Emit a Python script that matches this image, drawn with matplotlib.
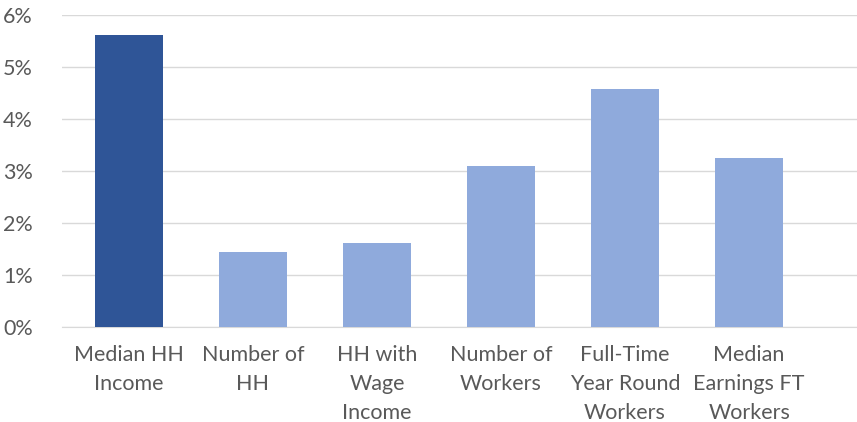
import matplotlib
matplotlib.use("Agg")
import matplotlib.pyplot as plt
from matplotlib.ticker import FuncFormatter

categories = [
    "Median HH\nIncome",
    "Number of\nHH",
    "HH with\nWage\nIncome",
    "Number of\nWorkers",
    "Full-Time\nYear Round\nWorkers",
    "Median\nEarnings FT\nWorkers",
]
values = [5.62, 1.44, 1.62, 3.10, 4.58, 3.26]
bar_colors = ["#2F5597", "#8FAADC", "#8FAADC", "#8FAADC", "#8FAADC", "#8FAADC"]
y_ticks = [0, 1, 2, 3, 4, 5, 6]

plt.rcParams["font.family"] = ["Lato", "DejaVu Sans"]

fig = plt.figure(figsize=(8.57, 4.22), dpi=100)
ax = fig.add_axes([62 / 857, 1 - 327.3 / 422, 1 - 62 / 857, (327.3 - 15.3) / 422])

x = list(range(len(categories)))
ax.bar(x, values, width=0.55, color=bar_colors, zorder=3)

ax.set_ylim(0, 6)
ax.set_xlim(-0.538, 5.869)
ax.set_yticks(y_ticks)
ax.yaxis.set_major_formatter(FuncFormatter(lambda v, p: f"{v:.0f}%"))
ax.set_xticks(x)
ax.set_xticklabels(categories, linespacing=1.55)

ax.grid(axis="y", color="#D9D9D9", linewidth=1, zorder=0)
for s in ["top", "right", "left"]:
    ax.spines[s].set_visible(False)
ax.spines["bottom"].set_color("#D9D9D9")

ax.tick_params(axis="both", length=0, colors="#595959", labelsize=15.5)
ax.tick_params(axis="x", pad=13)
ax.tick_params(axis="y", pad=21)

fig.savefig("out.png", dpi=100)
